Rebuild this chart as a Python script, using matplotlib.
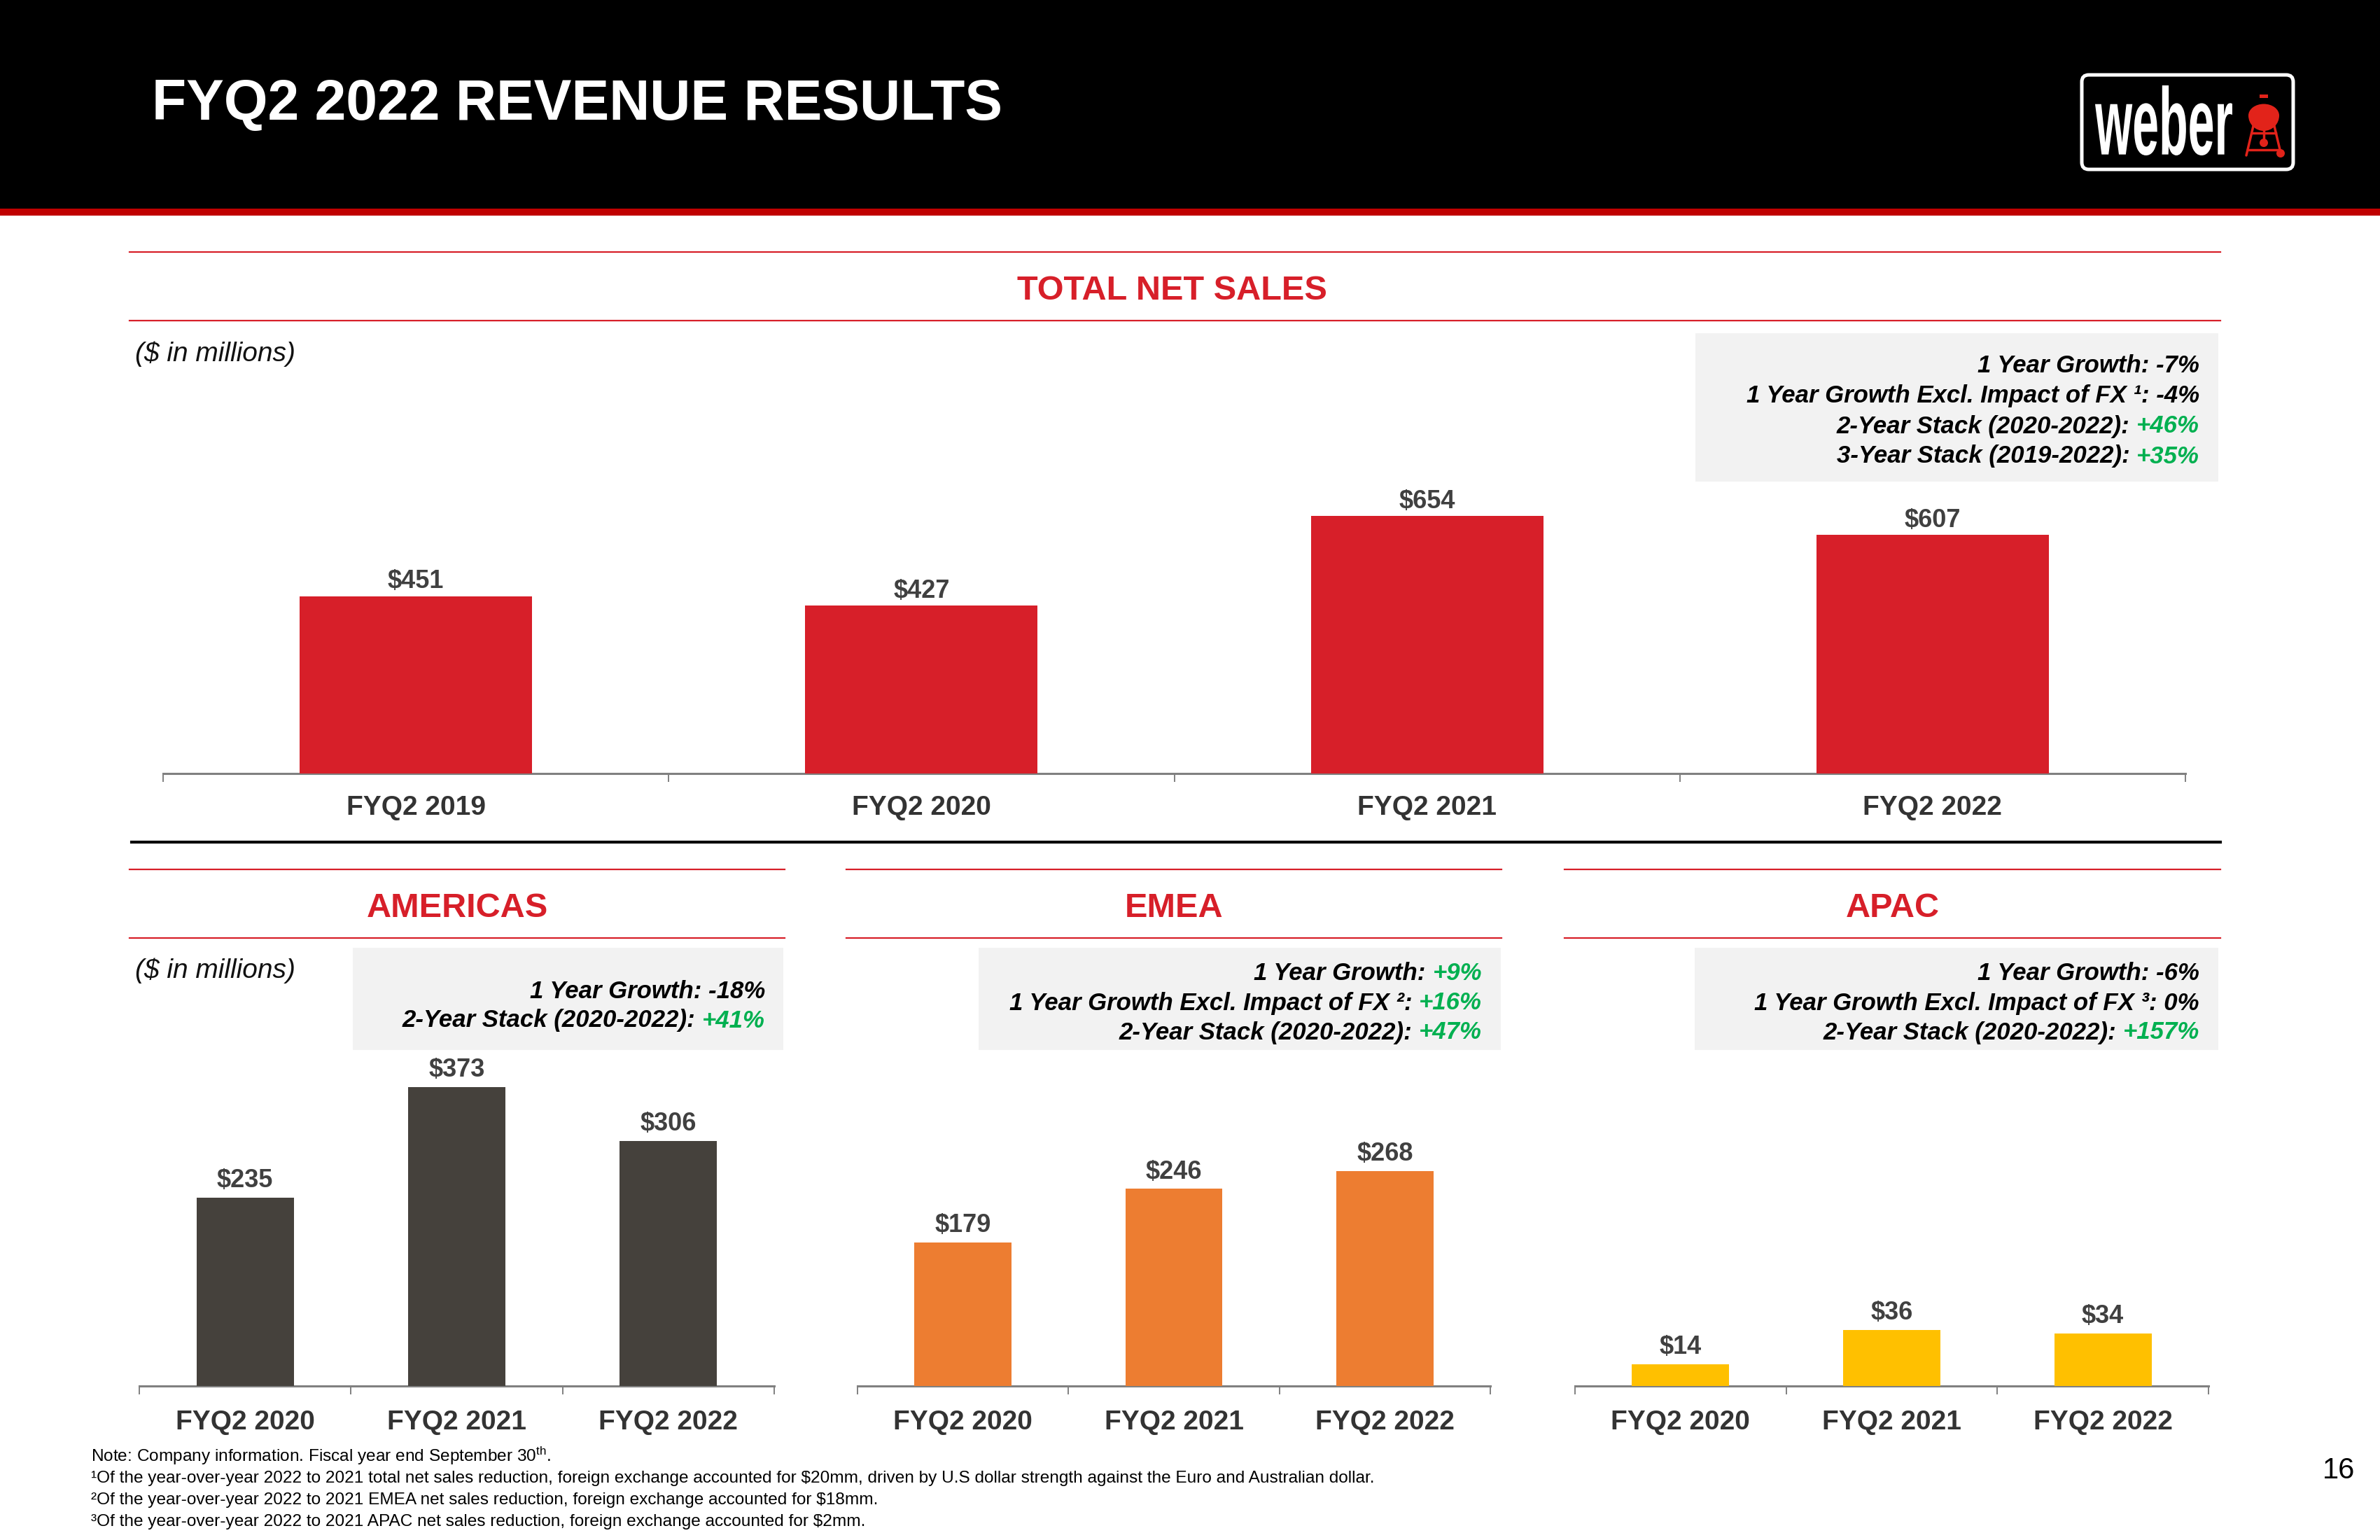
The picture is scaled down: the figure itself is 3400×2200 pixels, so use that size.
import numpy as np
import matplotlib
matplotlib.use("Agg")
import matplotlib.pyplot as plt
from matplotlib.patches import Rectangle, FancyBboxPatch, PathPatch, Circle, Wedge
from matplotlib.textpath import TextPath
from matplotlib.font_manager import FontProperties
from matplotlib.transforms import Affine2D

plt.rcParams['font.family'] = ['Liberation Sans', 'DejaVu Sans']
plt.rcParams['mathtext.fontset'] = 'custom'
plt.rcParams['mathtext.rm'] = 'Liberation Sans'
plt.rcParams['mathtext.it'] = 'Liberation Sans:italic'
plt.rcParams['mathtext.bf'] = 'Liberation Sans:bold'

# ---------------- data ----------------
slide_title = "FYQ2 2022 REVENUE RESULTS"
total_title = "TOTAL NET SALES"
total_categories = ["FYQ2 2019", "FYQ2 2020", "FYQ2 2021", "FYQ2 2022"]
total_sales = [451, 427, 654, 607]

region_titles = ["AMERICAS", "EMEA", "APAC"]
region_categories = ["FYQ2 2020", "FYQ2 2021", "FYQ2 2022"]
americas_sales = [235, 373, 306]
emea_sales = [179, 246, 268]
apac_sales = [14, 36, 34]

total_stats = [("1 Year Growth: -7%", None),
               ("1 Year Growth Excl. Impact of FX \u00b9: -4%", None),
               ("2-Year Stack (2020-2022):", "+46%"),
               ("3-Year Stack (2019-2022):", "+35%")]
americas_stats = [("1 Year Growth: -18%", None),
                  ("2-Year Stack (2020-2022):", "+41%")]
emea_stats = [("1 Year Growth:", "+9%"),
              ("1 Year Growth Excl. Impact of FX \u00b2:", "+16%"),
              ("2-Year Stack (2020-2022):", "+47%")]
apac_stats = [("1 Year Growth: -6%", None),
              ("1 Year Growth Excl. Impact of FX \u00b3: 0%", None),
              ("2-Year Stack (2020-2022):", "+157%")]

units_label = "($ in millions)"
footnotes = [
    "Note: Company information. Fiscal year end September 30$^{\\mathrm{th}}$.",
    "\u00b9Of the year-over-year 2022 to 2021 total net sales reduction, foreign exchange accounted for \\$20mm, driven by U.S dollar strength against the Euro and Australian dollar.",
    "\u00b2Of the year-over-year 2022 to 2021 EMEA net sales reduction, foreign exchange accounted for \\$18mm.",
    "\u00b3Of the year-over-year 2022 to 2021 APAC net sales reduction, foreign exchange accounted for \\$2mm.",
]
page_number = "16"

# ---------------- styles ----------------
RED = "#D71F29"
DARK = "#45413C"
ORANGE = "#ED7D31"
YELLOW = "#FFC000"
GREEN = "#00B050"
BOXGRAY = "#F2F2F2"
AXGRAY = "#808080"

W, H = 3400, 2200
fig = plt.figure(figsize=(W / 100, H / 100), dpi=100)
fig.patch.set_facecolor("white")

bg = fig.add_axes([0, 0, 1, 1], zorder=0)
bg.set_xlim(0, W)
bg.set_ylim(H, 0)
bg.axis("off")

# header
bg.add_patch(Rectangle((0, 0), W, 298, fc="black", ec="none"))
bg.add_patch(Rectangle((0, 298), W, 10, fc="#C00000", ec="none"))
bg.text(217, 150, slide_title, color="white", fontsize=58, weight="bold",
        ha="left", va="center")

# logo
bg.add_patch(FancyBboxPatch((2974, 107), 302, 135,
                            boxstyle="round,pad=0,rounding_size=10",
                            fc="black", ec="white", lw=3.6))
tp = TextPath((0, 0), "weber", size=100,
              prop=FontProperties(family="Liberation Sans", weight="bold"))
bb = tp.get_extents()
tr = Affine2D().translate(-bb.x0, -bb.y0).scale(196 / bb.width, -100 / bb.height).translate(2993, 222)
bg.add_patch(PathPatch(tr.transform_path(tp), fc="white", ec="none"))
KRED = "#E2231A"
bg.add_patch(Wedge((3234, 165), 22, 0, 180, fc=KRED, ec="none"))
bg.add_patch(Wedge((3234, 165), 22, 180, 360, fc=KRED, ec="none",
                   transform=Affine2D().scale(1, 0.75).translate(0, 165 * 0.25) + bg.transData))
bg.add_patch(Rectangle((3228, 135), 12, 5, fc=KRED, ec="none"))
bg.plot([3219, 3209], [180, 222], color=KRED, lw=2.5, solid_capstyle="round")
bg.plot([3249, 3258], [180, 218], color=KRED, lw=2.5, solid_capstyle="round")
bg.plot([3234, 3234], [180, 203], color=KRED, lw=2.5)
bg.plot([3217, 3251], [190, 190], color=KRED, lw=2.5)
bg.plot([3211, 3256], [214, 214], color=KRED, lw=2.5)
bg.add_patch(Circle((3234, 204), 6, fc=KRED, ec="none"))
bg.add_patch(Circle((3258, 219), 6, fc=KRED, ec="none"))

# section lines
bg.plot([185, 3172], [360, 360], color=RED, lw=1.6)
bg.plot([185, 3172], [458, 458], color=RED, lw=1.6)
bg.text(1674, 415, total_title, color=RED, fontsize=35, weight="bold", ha="center", va="center")
bg.text(193, 506, units_label, fontsize=28, style="italic", ha="left", va="center", color="#111111")
bg.plot([188, 3172], [1203, 1203], color="black", lw=3)

panels = [(185, 1121), (1209, 2145), (2235, 3172)]
for (x0, x1), t in zip(panels, region_titles):
    bg.plot([x0, x1], [1242, 1242], color=RED, lw=1.6)
    bg.plot([x0, x1], [1340, 1340], color=RED, lw=1.6)
    bg.text((x0 + x1) / 2, 1297, t, color=RED, fontsize=35, weight="bold", ha="center", va="center")
bg.text(193, 1387, units_label, fontsize=28, style="italic", ha="left", va="center", color="#111111")

FONT_BOX = dict(fontsize=25, weight="bold", style="italic")


def stat_box(x0, x1, y0, y1, xr, ys, lines):
    bg.add_patch(Rectangle((x0, y0), x1 - x0, y1 - y0, fc=BOXGRAY, ec="none"))
    for y, (blk, grn) in zip(ys, lines):
        if grn is None:
            bg.text(xr, y, blk, color="black", ha="right", va="center", **FONT_BOX)
        else:
            t = bg.text(xr, y, grn, color=GREEN, ha="right", va="center", **FONT_BOX)
            bg.annotate(blk, xy=(0, y), xycoords=(t, "data"), xytext=(-7, 0),
                        textcoords="offset points", ha="right", va="center",
                        color="black", **FONT_BOX)


stat_box(2422, 3169, 476, 688, 3142, [523, 566, 609, 652], total_stats)
stat_box(504, 1119, 1354, 1500, 1093, [1416, 1458], americas_stats)
stat_box(1398, 2144, 1354, 1500, 2117, [1390, 1433, 1475], emea_stats)
stat_box(2421, 3169, 1354, 1500, 3142, [1390, 1433, 1475], apac_stats)

# footnotes
for y, s in zip([2080, 2112, 2143, 2174], footnotes):
    bg.text(130, y, s, fontsize=17.6, ha="left", va="center", color="black")
bg.text(3341, 2101, page_number, fontsize=30, ha="center", va="center", color="black")


# ---------------- bar charts ----------------
def bar_panel(x0, x1, baseline, height_px, px_per_unit, cats, vals, color,
              val_off, cat_off):
    ax = fig.add_axes([x0 / W, 1 - baseline / H, (x1 - x0) / W, height_px / H], zorder=2)
    ax.patch.set_visible(False)
    n = len(cats)
    ax.set_xlim(-0.5, n - 0.5)
    ax.set_ylim(0, height_px / px_per_unit)
    for s in ["top", "right", "left"]:
        ax.spines[s].set_visible(False)
    ax.spines["bottom"].set_color(AXGRAY)
    ax.spines["bottom"].set_linewidth(2.2)
    ax.set_yticks([])
    ax.set_xticks(np.arange(-0.5, n, 1.0))
    ax.set_xticklabels([])
    ax.tick_params(axis="x", length=8.6, width=1.4, color=AXGRAY, direction="out")
    x = np.arange(n)
    ax.bar(x, vals, width=0.46, color=color, zorder=3)
    for i, v in enumerate(vals):
        ax.annotate(f"${v}", xy=(i, v), xytext=(0, val_off), textcoords="offset points",
                    ha="center", va="center", fontsize=26, weight="bold", color="#404040")
        ax.annotate(cats[i], xy=(i, 0), xycoords=("data", "axes fraction"),
                    xytext=(0, -cat_off), textcoords="offset points",
                    ha="center", va="center", fontsize=28, weight="bold", color="#333333",
                    annotation_clip=False)
    return ax


bar_panel(233, 3122, 1105, 500, 0.562, total_categories, total_sales, RED, 15, 35.5)
bar_panel(199, 1106, 1980, 450, 1.145, region_categories, americas_sales, DARK, 17.5, 37.5)
bar_panel(1225, 2129, 1980, 450, 1.145, region_categories, emea_sales, ORANGE, 17.5, 37.5)
bar_panel(2250, 3155, 1980, 450, 2.22, region_categories, apac_sales, YELLOW, 17.5, 37.5)

fig.savefig("out.png", dpi=100)
